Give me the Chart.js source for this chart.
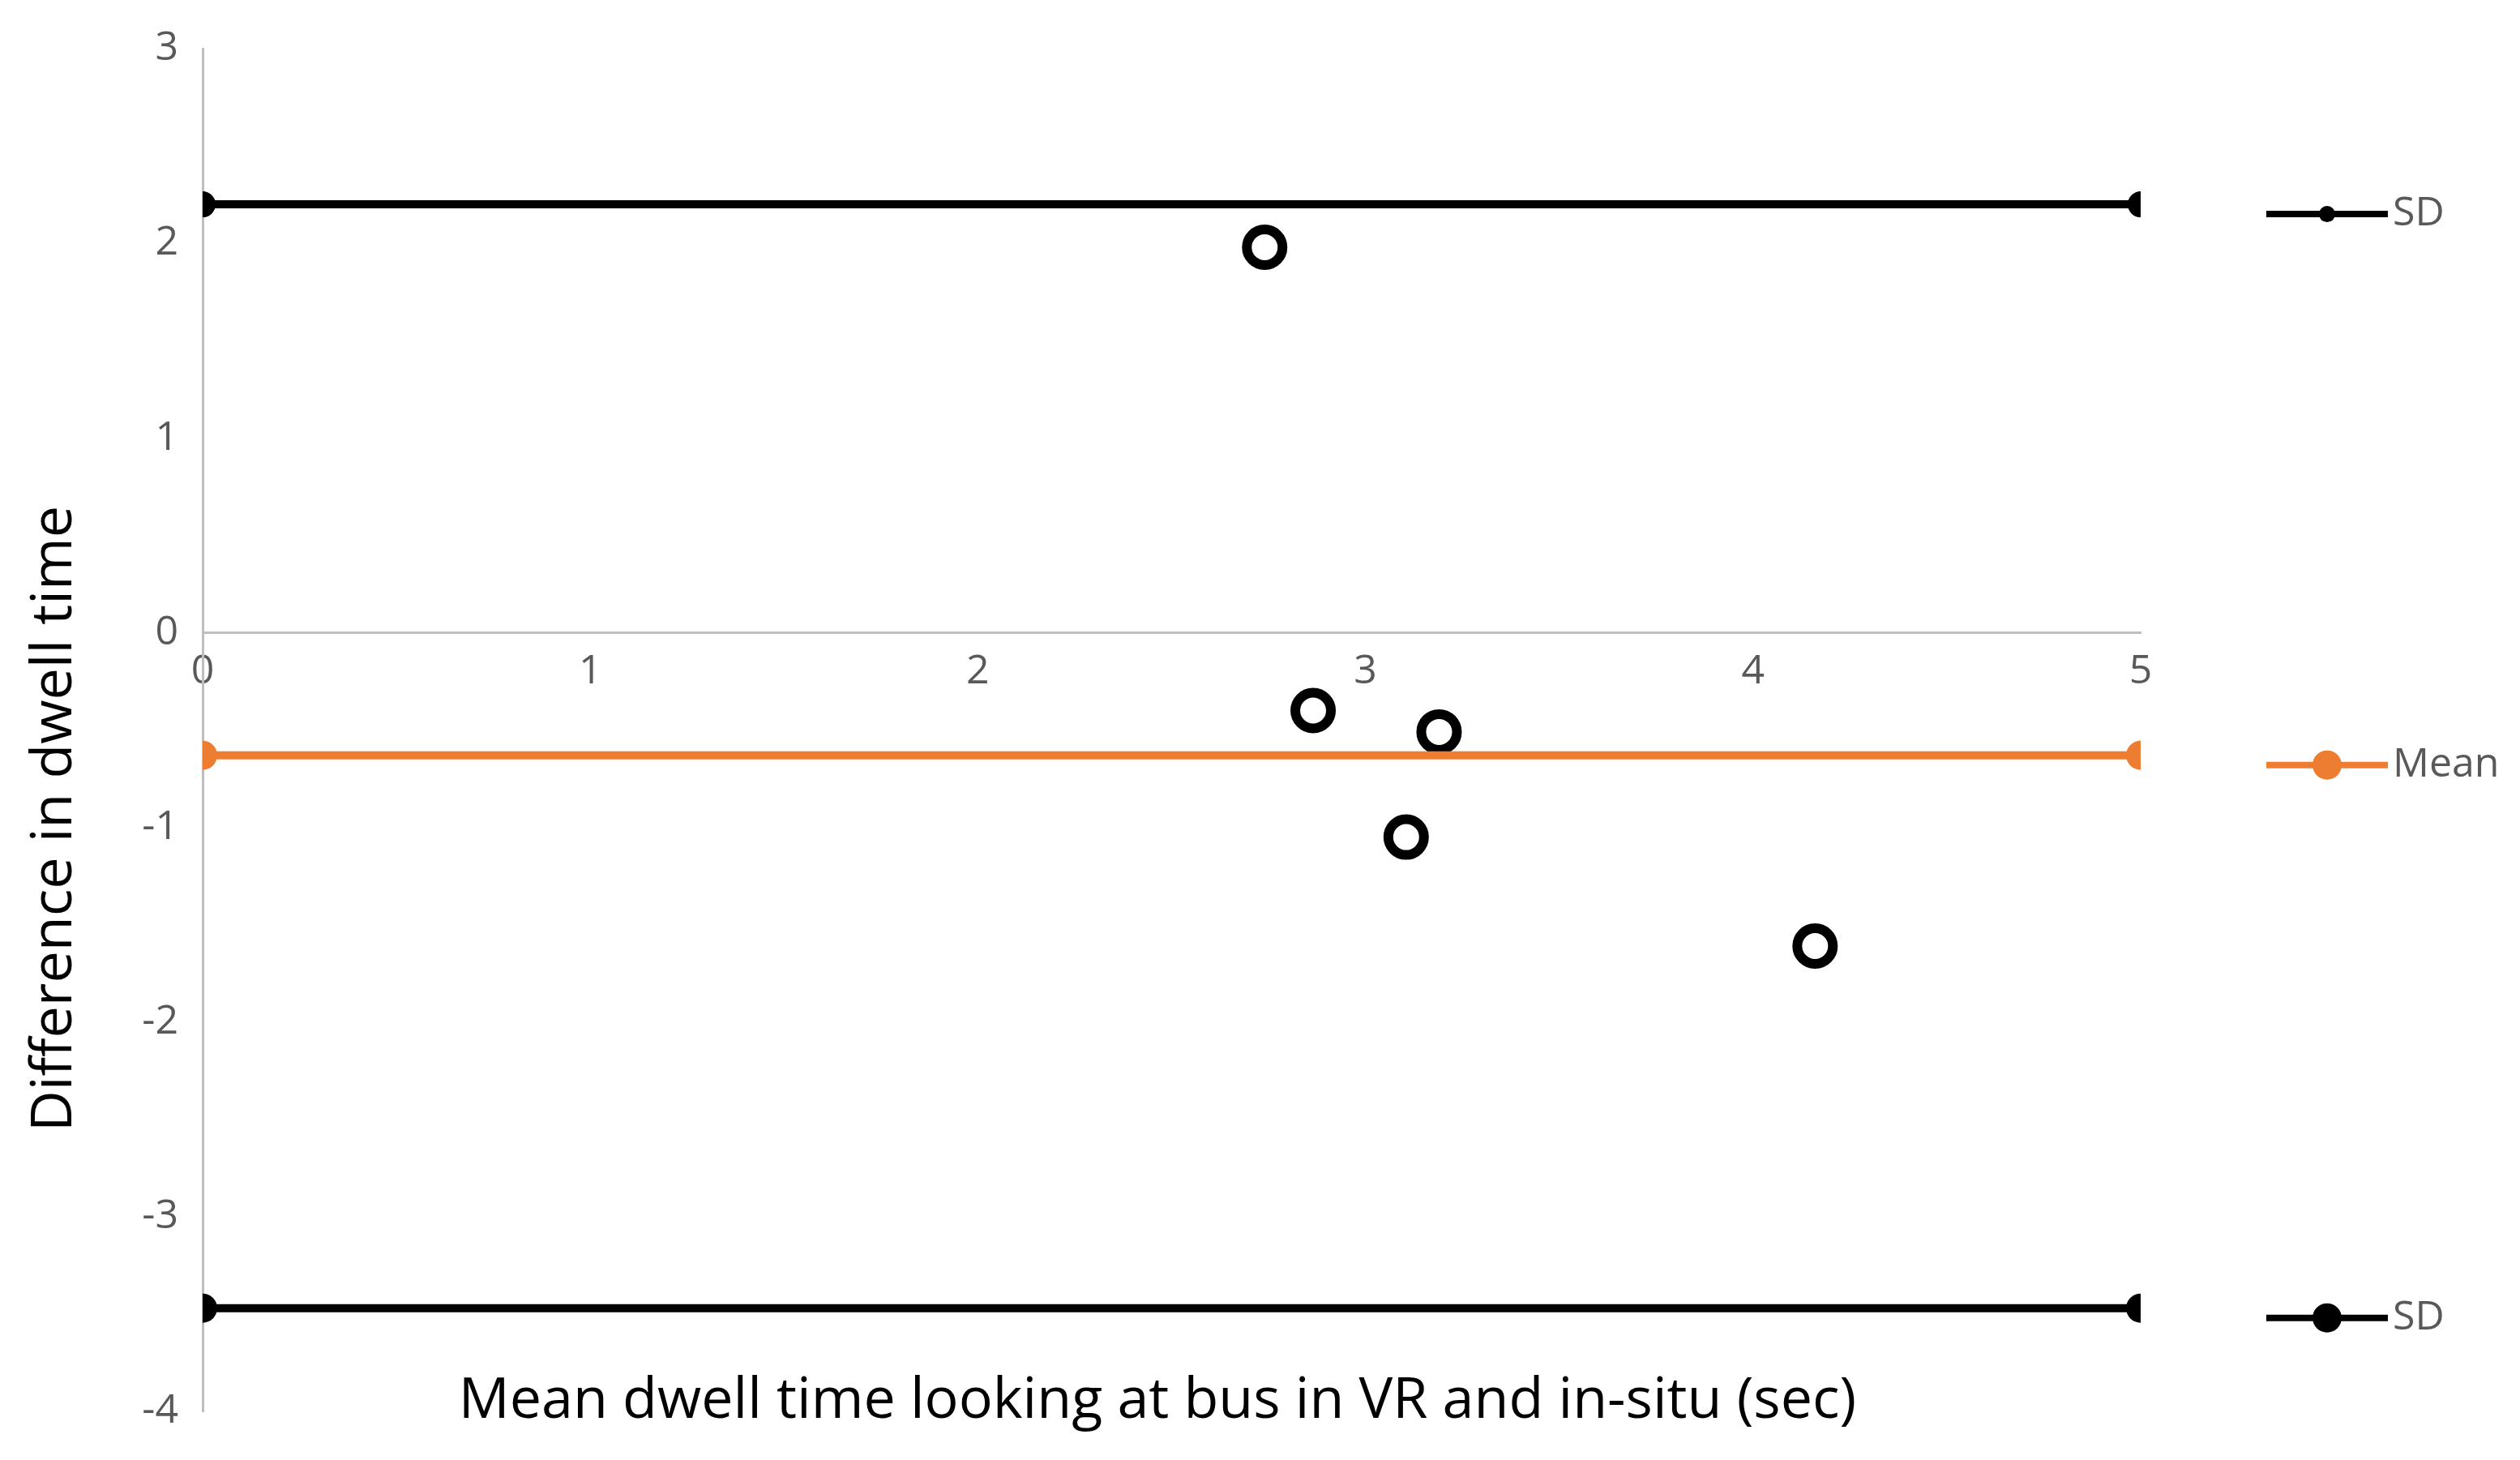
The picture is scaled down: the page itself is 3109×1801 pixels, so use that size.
<!DOCTYPE html>
<html lang="en">
<head>
<meta charset="UTF-8">
<title>Bland-Altman dwell time</title>
<script src="https://cdn.jsdelivr.net/npm/chart.js"></script>
<style>
  html, body { margin: 0; padding: 0; background: #fff; }
  #wrap { width: 3109px; height: 1801px; }
</style>
</head>
<body>
<div id="wrap"><canvas id="c" width="3109" height="1801"></canvas></div>
<script>
// data
const pointX = [2.74, 2.865, 3.19, 3.105, 4.16];
const pointY = [1.98, -0.40, -0.51, -1.05, -1.61];
const lineX = [0, 5];
const upperSD = 2.2;
const meanDiff = -0.63;
const lowerSD = -3.47;
const legendLabels = ['SD', 'Mean', 'SD'];

const lineData = v => lineX.map(x => ({ x: x, y: v }));

// legend next to each horizontal line + axis titles
const decor = {
  id: 'decor',
  afterDraw(chart) {
    const ctx = chart.ctx;
    const ys = chart.scales.y;
    const items = [
      { v: upperSD, color: '#000', label: legendLabels[0], r: 10 },
      { v: meanDiff, color: '#ed7d31', label: legendLabels[1], r: 18 },
      { v: lowerSD, color: '#000', label: legendLabels[2], r: 18 }
    ];
    ctx.save();
    items.forEach(it => {
      const y = ys.getPixelForValue(it.v) + 12;
      ctx.strokeStyle = it.color;
      ctx.lineWidth = 8;
      ctx.beginPath(); ctx.moveTo(2796, y); ctx.lineTo(2946, y); ctx.stroke();
      ctx.fillStyle = it.color;
      ctx.beginPath(); ctx.arc(2871, y, it.r, 0, Math.PI * 2); ctx.fill();
      ctx.fillStyle = '#595959';
      ctx.font = '50px "Open Sans", sans-serif';
      ctx.textBaseline = 'middle';
      ctx.fillText(it.label, 2952, y);
    });
    ctx.fillStyle = '#000';
    ctx.font = '70px "Open Sans", sans-serif';
    ctx.textAlign = 'center';
    ctx.textBaseline = 'middle';
    ctx.fillText('Mean dwell time looking at bus in VR and in-situ (sec)', 1428, 1729);
    ctx.translate(68, 1010);
    ctx.rotate(-Math.PI / 2);
    ctx.fillText('Difference in dwell time', 0, 0);
    ctx.restore();
  }
};

new Chart(document.getElementById('c'), {
  type: 'scatter',
  data: {
    datasets: [
      { data: lineData(upperSD), showLine: true, borderColor: '#000', backgroundColor: '#000',
        borderWidth: 10, pointRadius: 16, pointBorderWidth: 0 },
      { data: lineData(meanDiff), showLine: true, borderColor: '#ed7d31', backgroundColor: '#ed7d31',
        borderWidth: 10, pointRadius: 18, pointBorderWidth: 0 },
      { data: lineData(lowerSD), showLine: true, borderColor: '#000', backgroundColor: '#000',
        borderWidth: 10, pointRadius: 18, pointBorderWidth: 0 },
      { data: pointX.map((x, i) => ({ x: x, y: pointY[i] })), borderColor: '#000',
        backgroundColor: '#fff', pointRadius: 22, pointBorderWidth: 12 }
    ]
  },
  options: {
    responsive: false,
    animation: false,
    devicePixelRatio: 1,
    layout: { padding: { left: 120, right: 468, top: 44, bottom: 32 } },
    plugins: { legend: { display: false }, tooltip: { enabled: false } },
    scales: {
      x: {
        type: 'linear', min: 0, max: 5, position: { y: 0 },
        grid: { display: false, drawTicks: false },
        border: { color: '#bfbfbf', width: 3 },
        ticks: { stepSize: 1, padding: 18, color: '#595959', font: { size: 50, family: 'Open Sans' } }
      },
      y: {
        type: 'linear', min: -4, max: 3,
        grid: { display: false, drawTicks: false },
        border: { color: '#bfbfbf', width: 3 },
        ticks: { stepSize: 1, padding: 30, color: '#595959', font: { size: 50, family: 'Open Sans' } },
        afterFit(s) { s.width = 130; }
      }
    }
  },
  plugins: [decor]
});
</script>
</body>
</html>
